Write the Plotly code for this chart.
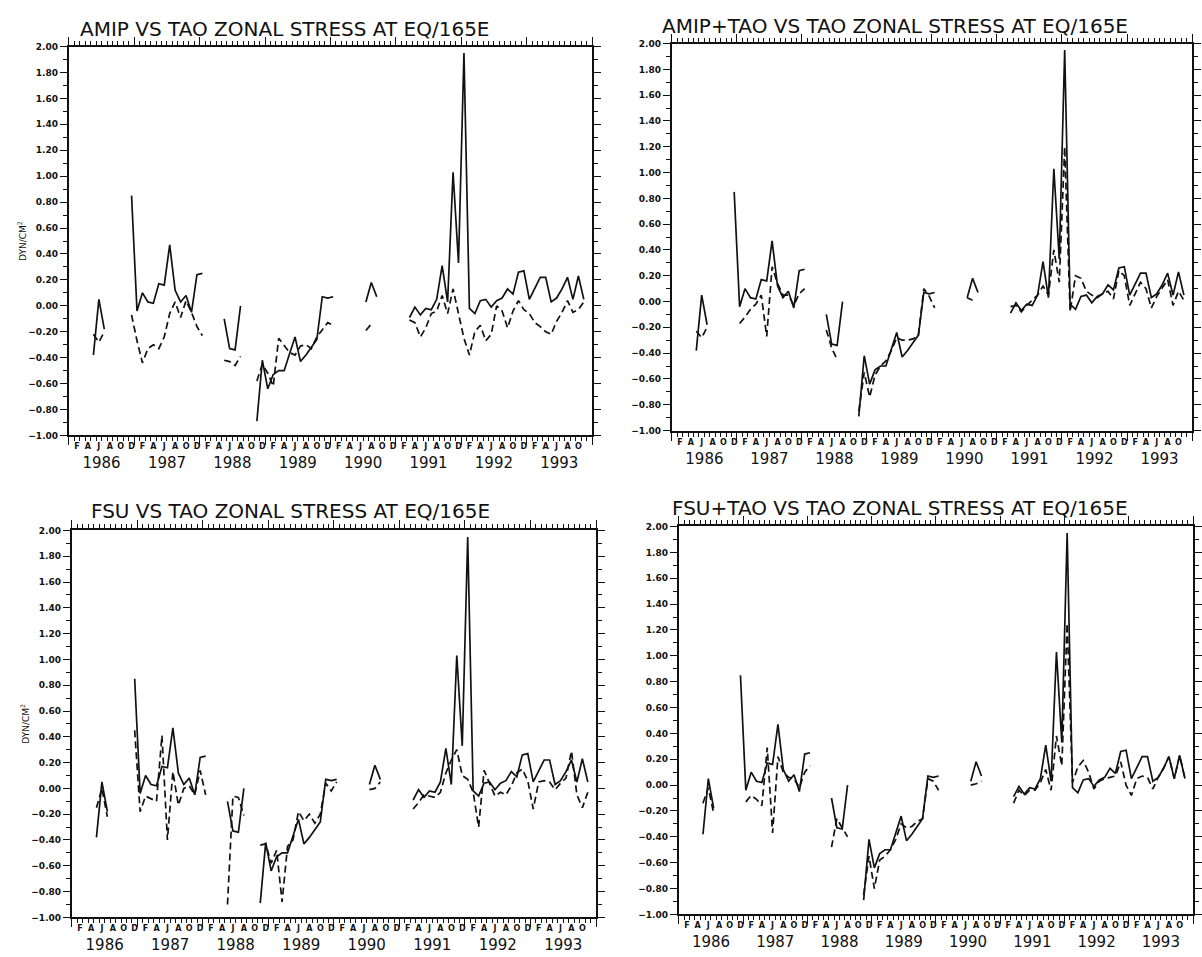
import plotly.graph_objects as go

N = None

# ---------------- data (monthly, index 0 = Jan 1986) ----------------
TAO = [
    N, N, N, N, -0.38, 0.05, -0.18, N, N, N, N, 0.85,                       # 1986
    -0.04, 0.10, 0.03, 0.02, 0.17, 0.16, 0.47, 0.12, 0.03, 0.08, -0.05, 0.24,  # 1987
    0.25, N, N, N, -0.10, -0.33, -0.34, 0.00, N, N, -0.89, -0.42,            # 1988
    -0.64, -0.53, -0.50, -0.50, -0.37, -0.24, -0.43, -0.38, -0.32, -0.26, 0.07, 0.06,  # 1989
    0.07, N, N, N, N, N, 0.03, 0.18, 0.07, N, N, N,                          # 1990
    N, N, -0.09, -0.01, -0.07, -0.02, -0.03, 0.05, 0.31, 0.03, 1.03, 0.33,   # 1991
    1.95, -0.02, -0.06, 0.04, 0.05, -0.01, 0.04, 0.06, 0.13, 0.09, 0.26, 0.27,  # 1992
    0.05, 0.14, 0.22, 0.22, 0.03, 0.06, 0.13, 0.22, 0.05, 0.23, 0.05,        # 1993
]

AMIP = [
    N, N, N, N, -0.22, -0.28, -0.20, N, N, N, N, -0.07,
    -0.27, -0.44, -0.33, -0.30, -0.33, -0.24, -0.06, 0.03, -0.09, 0.04, -0.05, -0.16,
    -0.23, N, N, N, -0.42, -0.43, -0.46, -0.39, N, N, -0.58, -0.45,
    -0.52, -0.62, -0.25, -0.31, -0.36, -0.38, -0.31, -0.30, -0.33, -0.24, -0.18, -0.13,
    -0.15, N, N, N, N, N, -0.19, -0.14, N, N, N, N,
    N, N, -0.11, -0.13, -0.24, -0.17, -0.06, -0.04, 0.08, -0.06, 0.13, -0.05,
    -0.25, -0.38, -0.20, -0.15, -0.27, -0.22, 0.00, -0.04, -0.17, -0.04, 0.04, -0.03,
    -0.06, -0.13, -0.16, -0.20, -0.22, -0.12, -0.05, 0.04, -0.05, -0.03, 0.03,
]

AMIP_TAO = [
    N, N, N, N, -0.23, -0.28, -0.20, N, N, N, N, N,
    -0.17, -0.12, -0.06, -0.02, 0.05, -0.27, 0.27, 0.14, 0.05, 0.05, -0.03, 0.06,
    0.10, N, N, N, -0.22, -0.36, -0.45, N, N, N, -0.85, -0.55,
    -0.74, -0.57, -0.50, -0.46, -0.38, -0.28, -0.30, -0.30, -0.29, -0.26, 0.10, 0.04,
    -0.05, N, N, N, N, N, 0.03, 0.01, N, N, N, N,
    N, N, -0.04, -0.03, -0.08, -0.03, 0.01, 0.05, 0.12, 0.05, 0.40, 0.15,
    1.20, -0.08, 0.20, 0.18, 0.08, 0.05, 0.03, 0.06, 0.08, 0.02, 0.24, 0.20,
    -0.03, 0.06, 0.15, 0.10, -0.05, 0.04, 0.10, 0.17, -0.03, 0.08, 0.01,
]

FSU = [
    N, N, N, N, -0.15, 0.00, -0.22, N, N, N, N, 0.45,
    -0.18, -0.06, -0.08, -0.10, 0.41, -0.40, 0.13, -0.13, 0.00, 0.02, -0.05, 0.14,
    -0.05, N, N, N, -0.90, -0.06, -0.07, -0.21, N, N, -0.44, -0.43,
    -0.58, -0.48, -0.88, -0.45, -0.40, -0.18, -0.25, -0.20, -0.27, -0.20, 0.04, -0.02,
    0.05, N, N, N, N, N, -0.01, 0.00, 0.05, N, N, N,
    N, N, -0.16, -0.11, -0.05, -0.06, -0.07, -0.03, 0.12, 0.22, 0.30, 0.10,
    0.07, -0.03, -0.30, 0.14, 0.04, -0.06, -0.03, -0.05, 0.02, 0.12, 0.15, 0.06,
    -0.16, 0.05, 0.06, 0.05, -0.01, 0.04, 0.08, 0.29, -0.05, -0.15, -0.03,
]

FSU_TAO = [
    N, N, N, N, -0.14, -0.02, -0.22, N, N, N, N, N,
    -0.13, -0.08, -0.11, -0.16, 0.29, -0.37, 0.22, 0.10, 0.06, 0.05, -0.02, 0.10,
    0.15, N, N, N, -0.48, -0.26, -0.33, -0.40, N, N, -0.85, -0.55,
    -0.80, -0.58, -0.55, -0.50, -0.42, -0.30, -0.33, -0.32, -0.28, -0.26, 0.05, 0.03,
    -0.04, N, N, N, N, N, 0.00, 0.01, 0.03, N, N, N,
    N, N, -0.14, -0.04, -0.08, -0.04, -0.04, 0.02, 0.12, -0.04, 0.38, 0.15,
    1.25, 0.02, 0.14, 0.19, 0.10, -0.03, 0.03, 0.05, 0.06, 0.07, 0.18, 0.00,
    -0.08, 0.05, 0.07, 0.06, -0.03, 0.06, 0.13, 0.22, 0.05, 0.23, 0.05,
]

TITLES = [
    "AMIP VS TAO ZONAL STRESS AT EQ/165E",
    "AMIP+TAO VS TAO ZONAL STRESS AT EQ/165E",
    "FSU VS TAO ZONAL STRESS AT EQ/165E",
    "FSU+TAO VS TAO ZONAL STRESS AT EQ/165E",
]
YEARS = ["1986", "1987", "1988", "1989", "1990", "1991", "1992", "1993"]
MONTH_LETTERS = ["F", "A", "J", "A", "O", "D"]
Y_TICKS = [-1.0, -0.8, -0.6, -0.4, -0.2, 0.0, 0.2, 0.4, 0.6, 0.8, 1.0,
           1.2, 1.4, 1.6, 1.8, 2.0]
Y_LABEL = "DYN/CM<sup>2</sup>"

# ---------------- derived axis helpers ----------------
X_MONTH = [k + 0.5 for k in range(len(TAO))]
X_RANGE = [0, 96]
LETTER_POS, LETTER_TXT = [], []
for yi in range(len(YEARS)):
    for li, letter in enumerate(MONTH_LETTERS):
        p = 12 * yi + 2 * li + 1.5
        if p < 95:
            LETTER_POS.append(p)
            LETTER_TXT.append(letter)
YEAR_POS = [12 * yi + 6 for yi in range(len(YEARS))]
YEAR_BOUNDS = [12 * yi for yi in range(len(YEARS) + 1)]

W, H = 1202, 957
FONT = "DejaVu Sans"
INK = "#111111"

panels = [
    dict(dashed=AMIP, px=(69, 593), py=(42, 435), tx=78, ty=24, ylab=True),
    dict(dashed=AMIP_TAO, px=(673, 1194), py=(39, 430), tx=661, ty=21, ylab=False),
    dict(dashed=FSU, px=(72, 597), py=(531, 922), tx=89, ty=511, ylab=True),
    dict(dashed=FSU_TAO, px=(680, 1195), py=(527, 919), tx=671, ty=508, ylab=False),
]

fig = go.Figure()
layout = dict(width=W, height=H, autosize=False,
              margin=dict(l=0, r=0, t=0, b=0),
              paper_bgcolor="white", plot_bgcolor="white",
              showlegend=False, annotations=[])

for i, p in enumerate(panels, start=1):
    xs = "" if i == 1 else str(i)
    xid, yid = "x" + xs, "y" + xs
    xdom = [p["px"][0] / W, p["px"][1] / W]
    ydom = [1 - p["py"][1] / H, 1 - p["py"][0] / H]

    fig.add_trace(go.Scatter(x=X_MONTH, y=p["dashed"], mode="lines",
                             line=dict(color=INK, width=1.7, dash="7px,4px"),
                             connectgaps=False, xaxis=xid, yaxis=yid,
                             hoverinfo="skip"))
    fig.add_trace(go.Scatter(x=X_MONTH, y=TAO, mode="lines",
                             line=dict(color=INK, width=1.7),
                             connectgaps=False, xaxis=xid, yaxis=yid,
                             hoverinfo="skip"))

    layout["xaxis" + xs] = dict(
        domain=xdom, range=X_RANGE, anchor=yid,
        tickmode="array", tickvals=YEAR_BOUNDS, ticks="outside", ticklen=8,
        tickwidth=1.4, tickcolor=INK, showticklabels=False,
        minor=dict(tickmode="linear", tick0=0, dtick=1, ticks="outside",
                   ticklen=4, tickwidth=1.1, tickcolor=INK),
        showline=True, linewidth=2, linecolor=INK, mirror="ticks",
        showgrid=False, zeroline=False, fixedrange=True)

    # month letters overlay axis
    n_l = 4 + i
    layout["xaxis%d" % n_l] = dict(
        overlaying=xid, anchor=yid, side="bottom", range=X_RANGE,
        tickmode="array", tickvals=LETTER_POS, ticktext=LETTER_TXT,
        ticks="", showline=False, showgrid=False, zeroline=False,
        tickangle=0, ticklabelstandoff=5,
        tickfont=dict(family=FONT, size=8, color=INK, weight="bold"),
        fixedrange=True)
    fig.add_trace(go.Scatter(x=X_RANGE, y=[N, N], mode="lines",
                             xaxis="x%d" % n_l, yaxis=yid, hoverinfo="skip"))

    # year labels overlay axis
    n_y = 8 + i
    layout["xaxis%d" % n_y] = dict(
        overlaying=xid, anchor=yid, side="bottom", range=X_RANGE,
        tickmode="array", tickvals=YEAR_POS, ticktext=YEARS,
        ticks="", showline=False, showgrid=False, zeroline=False,
        tickangle=0, ticklabelstandoff=17,
        tickfont=dict(family=FONT, size=15, color=INK),
        fixedrange=True)
    fig.add_trace(go.Scatter(x=X_RANGE, y=[N, N], mode="lines",
                             xaxis="x%d" % n_y, yaxis=yid, hoverinfo="skip"))

    yax = dict(
        domain=ydom, range=[-1, 2], anchor=xid,
        tickmode="array", tickvals=Y_TICKS, tickformat=".2f",
        ticks="outside", ticklen=7, tickwidth=1.4, tickcolor=INK,
        minor=dict(tickmode="linear", tick0=-1, dtick=0.1, ticks="outside",
                   ticklen=4, tickwidth=1.1, tickcolor=INK),
        showline=True, linewidth=2, linecolor=INK, mirror="ticks",
        showgrid=False, zeroline=False, fixedrange=True,
        tickfont=dict(family=FONT, size=9, color=INK, weight="bold"))
    if p["ylab"]:
        yax["title"] = dict(text=Y_LABEL, standoff=0,
                            font=dict(family=FONT, size=9, color=INK))
    layout["yaxis" + xs] = yax

    layout["annotations"].append(dict(
        text=TITLES[i - 1], xref="paper", yref="paper",
        x=p["tx"] / W, y=1 - p["ty"] / H, xanchor="left", yanchor="middle",
        showarrow=False, font=dict(family=FONT, size=20, color=INK)))

fig.update_layout(**layout)
fig.write_html(
    "out.html",
    config={"displayModeBar": False},
    post_script="document.body.style.margin='0px';"
                "document.body.style.overflow='hidden';",
)
